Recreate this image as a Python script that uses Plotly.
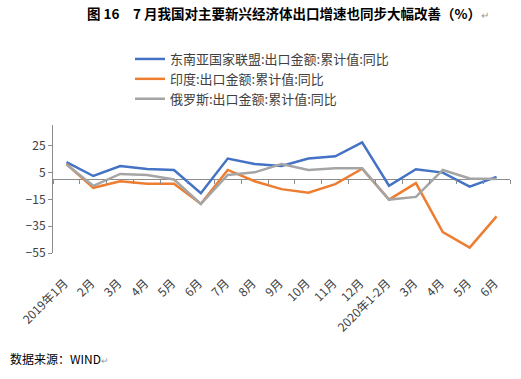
import plotly.graph_objects as go

categories = ["2019年1月", "2月", "3月", "4月", "5月", "6月", "7月", "8月", "9月", "10月",
              "11月", "12月", "2020年1-2月", "3月", "4月", "5月", "6月"]
# unique internal keys so repeated month names stay separate categories
keys = [f"c{i}" for i in range(len(categories))]

asean = [12.7, 2.4, 9.8, 7.6, 6.9, -10.5, 15.4, 11.3, 9.8, 15.4, 17.1, 27.4, -4.9, 7.4, 4.9, -5.6, 1.7]
india = [11.3, -6.4, -1.5, -3.4, -3.4, -18.4, 6.9, -1.5, -7.4, -10.0, -3.7, 7.8, -15.2, -2.9, -39.5, -51.0, -27.7]
russia = [11.0, -4.9, 3.9, 3.2, -0.2, -18.4, 3.2, 5.1, 11.3, 6.9, 8.1, 8.1, -15.2, -13.2, 6.9, 0.5, 0.2]

names = ["东南亚国家联盟:出口金额:累计值:同比", "印度:出口金额:累计值:同比", "俄罗斯:出口金额:累计值:同比"]
colors = ["#4472C4", "#ED7D31", "#A5A5A5"]
series = [asean, india, russia]

y_min, y_max = -55, 40.4

fig = go.Figure()
for n, c, s in zip(names, colors, series):
    fig.add_trace(go.Scatter(x=keys, y=s, name=n, mode="lines",
                             line=dict(color=c, width=2.5)))
# dummy trace for bottom label axis
fig.add_trace(go.Scatter(x=keys, y=[None] * len(keys), xaxis="x2", showlegend=False,
                         hoverinfo="skip"))

axis_gray = "#8C8C8C"
fig.update_layout(
    width=521, height=379,
    margin=dict(l=53, r=11, t=125, b=126, autoexpand=False),
    paper_bgcolor="white", plot_bgcolor="white",
    font=dict(family="Noto Sans CJK SC, sans-serif", color="#404040"),
    showlegend=True,
    legend=dict(x=130 / 521, y=1 - 44 / 379, xref="container", yref="container",
                xanchor="left", yanchor="top",
                font=dict(size=13, color="#404040"), bgcolor="rgba(0,0,0,0)",
                tracegroupgap=0),
    xaxis=dict(type="category", categoryorder="array", categoryarray=keys,
               range=[-0.5, len(keys) - 0.5], automargin=False,
               anchor="free", position=(0 - y_min) / (y_max - y_min),
               showline=False, showgrid=False, zeroline=False,
               ticks="outside", tickson="boundaries", ticklen=4, tickcolor=axis_gray,
               showticklabels=False),
    xaxis2=dict(type="category", categoryorder="array", categoryarray=keys,
                range=[-0.5, len(keys) - 0.5], overlaying="x", side="bottom",
                anchor="y", automargin=False,
                showline=False, showgrid=False, zeroline=False, ticks="",
                tickvals=keys, ticktext=categories, tickangle=-45,
                ticklabelstandoff=20, ticklabelshift=-2,
                tickfont=dict(size=12, color="#404040")),
    yaxis=dict(range=[y_min, y_max], tick0=-55, dtick=20, showgrid=False, automargin=False,
               zeroline=True, zerolinecolor=axis_gray, zerolinewidth=1.3,
               showline=True, linecolor=axis_gray, linewidth=1,
               ticks="outside", ticklen=4, tickcolor=axis_gray,
               tickfont=dict(size=12, color="#404040")),
    title=dict(text="<b>图 16　7 月我国对主要新兴经济体出口增速也同步大幅改善（%）</b><span style='color:#999999;font-size:10px'>↵</span>",
               x=87 / 521, xref="container", xanchor="left",
               y=1 - 14 / 379, yref="container", yanchor="middle",
               font=dict(size=13.5, color="#000000", family="Noto Sans CJK SC, sans-serif")),
)
fig.add_annotation(text="数据来源：WIND<span style='color:#999999;font-size:9px'>↵</span>",
                   xref="paper", yref="paper",
                   x=(8 - 53) / 457, y=-(358 - 253) / 128,
                   xanchor="left", yanchor="middle", showarrow=False,
                   font=dict(size=12, color="#000000"))

fig.write_html("out.html", config={"displayModeBar": False},
               post_script="document.body.style.margin='0';")
